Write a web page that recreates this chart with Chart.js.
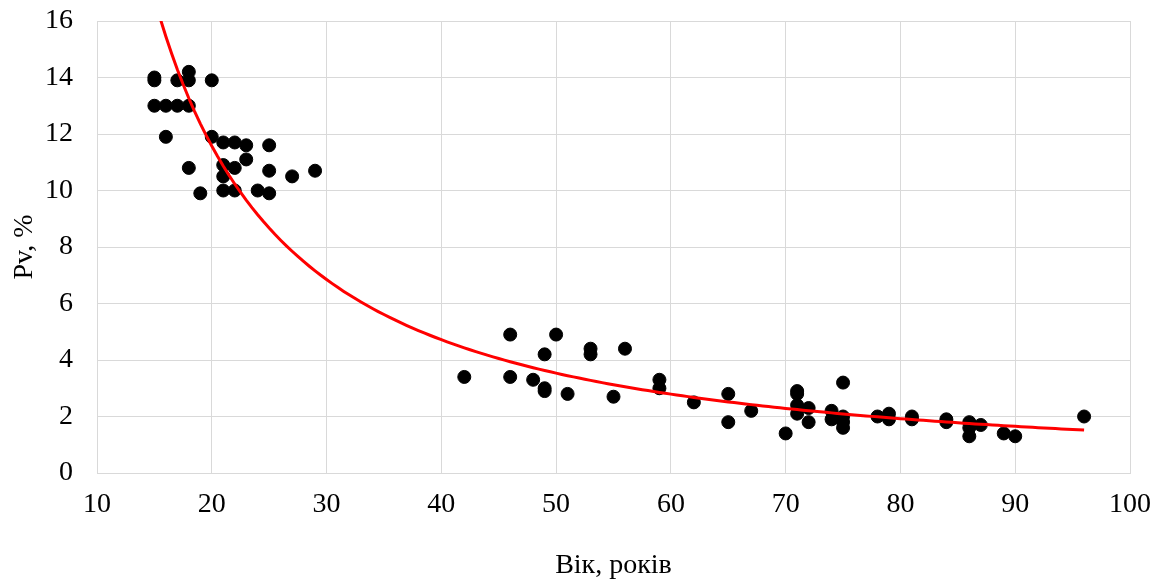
<!DOCTYPE html>
<html>
<head>
<meta charset="utf-8">
<script src="https://cdn.jsdelivr.net/npm/chart.js@4.4.0/dist/chart.umd.min.js"></script>
<style>
  html, body { margin: 0; padding: 0; background: #fff; }
  #wrap { width: 1154px; height: 583px; }
</style>
</head>
<body>
<div id="wrap"><canvas id="grafico"></canvas></div>
<script>
// вік (роки) і Pv (%)
const vik = [
  15, 15, 15, 16, 17, 18, 16, 17, 18, 18, 20, 18, 19, 20, 21, 22, 23, 25,
  21, 21, 22, 23, 21, 22, 24, 25, 25, 27, 29,
  42, 46, 46, 48, 49, 49, 49, 50, 51, 53, 53, 55, 56, 59, 59, 62,
  65, 65, 67, 70, 71, 71, 71, 71, 72, 72, 74, 74, 75, 75, 75, 75,
  78, 79, 79, 81, 81, 84, 84, 86, 86, 86, 87, 89, 90, 96
];
const pv = [
  14.0, 13.9, 13.0, 13.0, 13.0, 13.0, 11.9, 13.9, 14.2, 13.9, 13.9, 10.8, 9.9, 11.9, 11.7, 11.7, 11.6, 11.6,
  10.9, 10.5, 10.8, 11.1, 10.0, 10.0, 10.0, 9.9, 10.7, 10.5, 10.7,
  3.4, 4.9, 3.4, 3.3, 4.2, 3.0, 2.9, 4.9, 2.8, 4.4, 4.2, 2.7, 4.4, 3.3, 3.0, 2.5,
  2.8, 1.8, 2.2, 1.4, 2.9, 2.8, 2.4, 2.1, 2.3, 1.8, 2.2, 1.9, 3.2, 2.0, 1.8, 1.6,
  2.0, 2.1, 1.9, 2.0, 1.9, 1.9, 1.8, 1.8, 1.6, 1.3, 1.7, 1.4, 1.3, 2.0
];
const xTicks = [10, 20, 30, 40, 50, 60, 70, 80, 90, 100];
const yTicks = [0, 2, 4, 6, 8, 10, 12, 14, 16];

const pontos = vik.map((x, i) => ({ x: x, y: pv[i] }));

// степенева лінія тренду (як в Excel): регресія ln(y) на ln(x)
let sx = 0, sy = 0, sxx = 0, sxy = 0;
const n = vik.length;
for (let i = 0; i < n; i++) {
  const lx = Math.log(vik[i]), ly = Math.log(pv[i]);
  sx += lx; sy += ly; sxx += lx * lx; sxy += lx * ly;
}
const b = (n * sxy - sx * sy) / (n * sxx - sx * sx);
const a = Math.exp((sy - b * sx) / n);
const xMin = Math.min(...vik), xMax = Math.max(...vik);
const trend = [];
for (let x = xMin; x <= xMax + 1e-9; x += 0.5) {
  trend.push({ x: x, y: a * Math.pow(x, b) });
}

const fonte = { family: "'Liberation Serif', 'Times New Roman', serif", size: 28 };
const grelha = '#d9d9d9';

new Chart(document.getElementById('grafico'), {
  type: 'scatter',
  data: {
    datasets: [
      {
        data: pontos,
        backgroundColor: '#000',
        borderColor: '#000',
        pointRadius: 6.5,
        pointHoverRadius: 6.5,
        order: 1
      },
      {
        type: 'line',
        data: trend,
        borderColor: '#ff0000',
        borderWidth: 3,
        pointRadius: 0,
        fill: false,
        tension: 0,
        order: 0
      }
    ]
  },
  options: {
    responsive: true,
    maintainAspectRatio: false,
    animation: false,
    layout: { autoPadding: false, padding: { top: 21, right: 24, left: 0, bottom: 0 } },
    plugins: { legend: { display: false }, tooltip: { enabled: false } },
    scales: {
      x: {
        type: 'linear',
        min: 10, max: 100,
        afterBuildTicks: s => { s.ticks = xTicks.map(v => ({ value: v })); },
        afterFit: s => { s.height = 110; s.paddingLeft = 0; s.paddingRight = 0; },
        grid: { color: grelha, lineWidth: 1, drawTicks: false },
        border: { color: grelha, width: 1 },
        ticks: { color: '#000', font: fonte, padding: 15, maxRotation: 0 },
        title: { display: true, text: 'Вік, років', color: '#000', font: fonte, padding: { top: 1, bottom: 1 } }
      },
      y: {
        min: 0, max: 16,
        afterBuildTicks: s => { s.ticks = yTicks.map(v => ({ value: v })); },
        afterFit: s => { s.width = 97; s.paddingTop = 0; s.paddingBottom = 0; },
        grid: { color: grelha, lineWidth: 1, drawTicks: false },
        border: { color: grelha, width: 1 },
        ticks: { color: '#000', font: fonte, padding: 24 },
        title: { display: true, text: 'Pv, %', color: '#000', font: fonte, padding: { top: 8, bottom: 8 } }
      }
    }
  }
});
</script>
</body>
</html>
